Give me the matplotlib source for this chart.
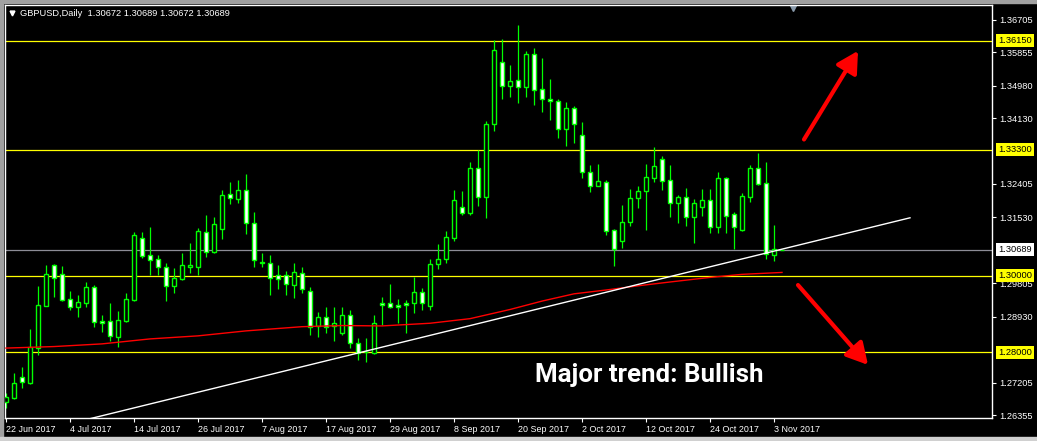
import matplotlib
matplotlib.use("Agg")
import matplotlib.pyplot as plt
import numpy as np
import pandas as pd
from matplotlib.patches import Rectangle
from matplotlib.lines import Line2D
from matplotlib import font_manager

# GBPUSD daily candles, 22 Jun 2017 .. 6 Nov 2017
opens = [1.2671, 1.2680, 1.2735, 1.2720, 1.2812, 1.2922, 1.3029, 1.3004, 1.2939, 1.2919,
         1.2930, 1.2970, 1.2882, 1.2882, 1.2839, 1.2882, 1.2937, 1.3098, 1.3054, 1.3044,
         1.3023, 1.2974, 1.2991, 1.3024, 1.3024, 1.3114, 1.3063, 1.3124, 1.3214, 1.3202,
         1.3224, 1.3138, 1.3036, 1.3033, 1.3002, 1.3002, 1.2975, 1.3007, 1.2960, 1.2870,
         1.2892, 1.2869, 1.2851, 1.2898, 1.2824, 1.2802, 1.2799, 1.2930, 1.2930, 1.2924,
         1.2928, 1.2928, 1.2959, 1.2921, 1.3030, 1.3044, 1.3100, 1.3180, 1.3164, 1.3282,
         1.3207, 1.3397, 1.3559, 1.3497, 1.3513, 1.3494, 1.3580, 1.3489, 1.3462, 1.3458,
         1.3384, 1.3439, 1.3369, 1.3271, 1.3236, 1.3245, 1.3120, 1.3092, 1.3142, 1.3203,
         1.3223, 1.3257, 1.3305, 1.3251, 1.3190, 1.3206, 1.3155, 1.3180, 1.3199, 1.3129,
         1.3256, 1.3161, 1.3120, 1.3207, 1.3282, 1.3242, 1.3055, 1.30672]
highs = [1.2693, 1.2745, 1.2761, 1.2861, 1.2974, 1.3029, 1.3031, 1.3026, 1.2961, 1.2950,
         1.2985, 1.2976, 1.2898, 1.2928, 1.2908, 1.2954, 1.3114, 1.3114, 1.3127, 1.3055,
         1.3033, 1.3020, 1.3059, 1.3085, 1.3125, 1.3159, 1.3153, 1.3225, 1.3247, 1.3251,
         1.3267, 1.3166, 1.3059, 1.3055, 1.3029, 1.3014, 1.3033, 1.3023, 1.2970, 1.2906,
         1.2919, 1.2918, 1.2918, 1.2911, 1.2837, 1.2837, 1.2898, 1.2946, 1.2979, 1.2940,
         1.2937, 1.2998, 1.2968, 1.3044, 1.3083, 1.3118, 1.3225, 1.3222, 1.3298, 1.3330,
         1.3406, 1.3618, 1.3619, 1.3552, 1.3657, 1.3589, 1.3596, 1.3570, 1.3516, 1.3462,
         1.3456, 1.3445, 1.3404, 1.3289, 1.3293, 1.3251, 1.3123, 1.3186, 1.3227, 1.3235,
         1.3293, 1.3338, 1.3314, 1.3289, 1.3212, 1.3231, 1.3201, 1.3227, 1.3227, 1.3273,
         1.3260, 1.3167, 1.3216, 1.3290, 1.3321, 1.3299, 1.3133, 1.30689]
lows = [1.2653, 1.2677, 1.2706, 1.2717, 1.2794, 1.2921, 1.2946, 1.2935, 1.2911, 1.2893,
        1.2919, 1.2867, 1.2854, 1.2830, 1.2813, 1.2880, 1.2933, 1.3046, 1.3002, 1.3002,
        1.2933, 1.2954, 1.2989, 1.3007, 1.3002, 1.3050, 1.3061, 1.3096, 1.3188, 1.3192,
        1.3110, 1.3024, 1.3024, 1.2950, 1.2965, 1.2950, 1.2941, 1.2954, 1.2845, 1.2841,
        1.2851, 1.2830, 1.2845, 1.2811, 1.2780, 1.2775, 1.2795, 1.2872, 1.2915, 1.2876,
        1.2850, 1.2902, 1.2911, 1.2911, 1.3018, 1.3033, 1.3092, 1.3159, 1.3159, 1.3183,
        1.3151, 1.3380, 1.3464, 1.3468, 1.3452, 1.3469, 1.3447, 1.3430, 1.3408, 1.3362,
        1.3341, 1.3349, 1.3256, 1.3220, 1.3234, 1.3107, 1.3027, 1.3074, 1.3131, 1.3177,
        1.3120, 1.3247, 1.3225, 1.3155, 1.3139, 1.3131, 1.3087, 1.3158, 1.3113, 1.3112,
        1.3112, 1.3070, 1.3118, 1.3193, 1.3238, 1.3044, 1.3040, 1.30672]
closes = [1.2684, 1.2719, 1.2721, 1.2813, 1.2924, 1.3004, 1.2994, 1.2937, 1.2918, 1.2931,
          1.2970, 1.2879, 1.2876, 1.2843, 1.2885, 1.2939, 1.3107, 1.3053, 1.3041, 1.3023,
          1.2974, 1.2994, 1.3028, 1.3029, 1.3118, 1.3062, 1.3135, 1.3211, 1.3203, 1.3224,
          1.3138, 1.3041, 1.3033, 1.2994, 1.2991, 1.2978, 1.3009, 1.2965, 1.2865, 1.2892,
          1.2867, 1.2876, 1.2897, 1.2824, 1.2799, 1.2800, 1.2876, 1.2924, 1.2918, 1.2919,
          1.2924, 1.2957, 1.2928, 1.3030, 1.3044, 1.3101, 1.3199, 1.3164, 1.3282, 1.3207,
          1.3398, 1.3591, 1.3497, 1.3510, 1.3494, 1.3580, 1.3487, 1.3462, 1.3458, 1.3384,
          1.3439, 1.3397, 1.3271, 1.3236, 1.3248, 1.3118, 1.3070, 1.3140, 1.3203, 1.3223,
          1.3258, 1.3288, 1.3249, 1.3190, 1.3206, 1.3155, 1.3190, 1.3199, 1.3129, 1.3256,
          1.3158, 1.3129, 1.3209, 1.3282, 1.3241, 1.3057, 1.3070, 1.30689]

# moving average (red) sampled along the chart
ma_idx = [0, 6, 12, 18, 24, 30, 37, 42, 47, 53, 58, 63, 67, 71, 75, 79, 83, 88, 92, 97]
ma_vals = [1.2811, 1.2815, 1.2822, 1.2835, 1.2843, 1.2856, 1.2867, 1.2870, 1.2869, 1.2876,
           1.2888, 1.2912, 1.2934, 1.2953, 1.2963, 1.2974, 1.2984, 1.2996, 1.3004, 1.3009]

# white trend line (two anchor points)
trend_idx = [5, 113]
trend_px = [1.2598, 1.3152]

levels = [1.3615, 1.3330, 1.3000, 1.2800]  # yellow horizontal lines
bid = 1.30689
yticks = [1.26355, 1.27205, 1.28930, 1.29805, 1.31530, 1.32405,
          1.34130, 1.34980, 1.35855, 1.36705]

green = "#00FF00"
small = 6.7
plt.rcParams["font.family"] = ["Liberation Sans", "DejaVu Sans"]

# a narrow bold face for the big caption, if one is installed
narrow = None
for f in font_manager.fontManager.ttflist:
    fn = f.fname.lower()
    if ("narrow" in fn or "condensed" in fn) and "bold" in fn and "italic" not in fn and "oblique" not in fn:
        if narrow is None or "liberation" in fn:
            narrow = f.fname
if narrow and "liberation" in narrow.lower():
    cap_font = dict(fontproperties=font_manager.FontProperties(fname=narrow, size=20.5))
else:
    cap_font = dict(family=["Roboto", "DejaVu Sans"], fontweight="bold", fontsize=18.6)

n = len(opens)
dates = pd.bdate_range("2017-06-22", periods=n)
x = np.arange(n)
o = np.array(opens)
c = np.array(closes)

fig = plt.figure(figsize=(10.37, 4.41), dpi=100, facecolor="black")
ax = fig.add_axes([5 / 1037, 23 / 441, 987 / 1037, 413 / 441], facecolor="black")

# horizontal levels
for lvl in levels:
    ax.axhline(lvl, color="#FFFF00", lw=0.9, zorder=1)
ax.axhline(bid, color="#8C8C96", lw=0.9, zorder=1)

# candles
ax.vlines(x, lows, highs, color=green, lw=0.9, zorder=2)
body_col = ["white" if cc < oo else "black" for oo, cc in zip(o, c)]
ax.bar(x, np.abs(c - o), 0.55, bottom=np.minimum(o, c), color=body_col,
       edgecolor=green, linewidth=1.0, zorder=3)

ax.plot(ma_idx, ma_vals, color="#FF0000", lw=1.0, zorder=4)
ax.plot(trend_idx, trend_px, color="white", lw=1.0, zorder=4)

# arrows
arr = dict(arrowstyle="-|>,head_length=0.4,head_width=0.22", color="#FF0000",
           lw=3, mutation_scale=32, shrinkA=0, shrinkB=0)
ax.annotate("", xy=(106.5, 1.3589), xytext=(99.75, 1.3357), arrowprops=arr, zorder=5)
ax.annotate("", xy=(107.75, 1.2767), xytext=(99, 1.2976), arrowprops=arr, zorder=5)

ax.text(80.4, 1.2723, "Major trend: Bullish", color="white",
        ha="center", va="baseline", zorder=6, **cap_font)

ax.set_xlim(-0.125, 123.25)
ax.set_ylim(1.2628, 1.3709)

# axes styling
for s in ax.spines.values():
    s.set_color("white")
    s.set_linewidth(1.0)
ax.yaxis.tick_right()
ax.set_yticks(yticks)
ax.set_yticklabels([f"{v:.5f}" for v in yticks])
ax.tick_params(axis="y", colors="white", labelsize=small, length=3, width=0.8, pad=2)
ax.set_xticks(x[::8])
ax.set_xticklabels([f"{d.day} {d:%b %Y}" for d in dates[::8]], ha="left")
ax.tick_params(axis="x", colors="white", labelsize=6.4, length=3, width=0.8, pad=2)

# highlighted price labels on the right scale
for lvl in levels:
    ax.text(1.0065, lvl, f"{lvl:.5f}", transform=ax.get_yaxis_transform(), color="black",
            fontsize=small, va="center", ha="left", clip_on=False,
            bbox=dict(boxstyle="square,pad=0.22", fc="#FFFF00", ec="none"))
ax.text(1.0065, bid, f"{bid:.5f}", transform=ax.get_yaxis_transform(), color="black",
        fontsize=small, va="center", ha="left", clip_on=False,
        bbox=dict(boxstyle="square,pad=0.22", fc="white", ec="none"))

# chart-shift marker
ax.plot([0.798], [0.993], marker="v", color="#8899AA", markersize=5,
        transform=ax.transAxes, clip_on=False)

# header
fig.add_artist(Line2D([12 / 1037], [1 - 13 / 441], marker="v", color="white",
                      markersize=3.5, transform=fig.transFigure))
fig.text(20 / 1037, 1 - 13.3 / 441, "GBPUSD,Daily  1.30672 1.30689 1.30672 1.30689",
         color="white", fontsize=small, va="center", ha="left")

# window borders
fig.patches.append(Rectangle((0, 1 - 2.5 / 441), 1, 2.5 / 441, transform=fig.transFigure, color="#A0A0A0"))
fig.patches.append(Rectangle((0, 0), 2.5 / 1037, 1, transform=fig.transFigure, color="#A0A0A0"))
fig.patches.append(Rectangle((0, 0), 1, 4 / 441, transform=fig.transFigure, color="#D0D0D0"))

fig.savefig("out.png", dpi=100, facecolor="black")
